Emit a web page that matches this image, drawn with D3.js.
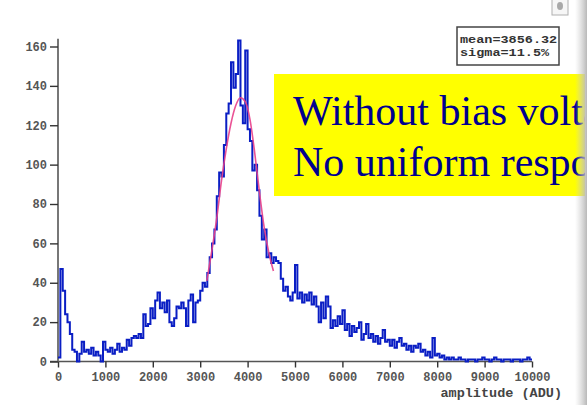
<!DOCTYPE html>
<html>
<head>
<meta charset="utf-8">
<script src="https://cdn.jsdelivr.net/npm/d3@7"></script>
<style>
  body { margin: 0; background: #ffffff; }
  .tick text { font-family: "Liberation Mono", "DejaVu Sans Mono", monospace; }
</style>
</head>
<body>
<div id="chart"></div>
<script>
// Amplitude spectrum with gaussian fit

// histogram: 50 ADU bins, 0 .. 10000
var binWidth = 50;
var counts = [
  2, 47, 36, 24, 20, 14, 6, 5, 0, 4, 10, 5, 6, 4, 7, 3, 5, 3, 0, 10,          // 0-1000
  6, 5, 7, 4, 6, 9, 5, 7, 6, 11, 8, 12, 13, 12, 14, 12, 24, 18, 19, 27,        // 1000-2000
  22, 31, 35, 27, 30, 25, 31, 20, 18, 22, 28, 27, 30, 27, 18, 31, 34, 20, 30, 31, // 2000-3000
  36, 40, 38, 45, 53, 60, 67, 84, 96, 94, 110, 126, 131, 152, 139, 146, 163, 130, 121, 158, // 3000-4000
  118, 112, 97, 100, 87, 74, 62, 67, 53, 55, 50, 53, 51, 50, 42, 36, 38, 33, 31, 35, // 4000-5000
  49, 32, 35, 30, 34, 31, 35, 29, 33, 28, 20, 30, 22, 33, 28, 17, 21, 18, 23, 19, // 5000-6000
  26, 16, 19, 13, 18, 15, 17, 20, 11, 14, 19, 12, 14, 10, 13, 9, 12, 16, 10, 11, // 6000-7000
  8, 11, 7, 10, 12, 8, 9, 6, 8, 5, 8, 7, 9, 5, 6, 3, 5, 2, 12, 3,              // 7000-8000
  4, 2, 3, 1, 2, 1, 2, 1, 1, 2, 1, 1, 0, 1, 1, 1, 0, 1, 1, 2,                  // 8000-9000
  1, 1, 0, 1, 2, 1, 1, 0, 1, 1, 1, 0, 1, 1, 1, 0, 1, 1, 2, 1                   // 9000-10000
];

// fitted gaussian
var fitAdu    = [3140, 3250, 3350, 3450, 3550, 3650, 3750, 3850, 3950, 4050, 4150, 4250, 4350, 4450, 4545];
var fitCounts = [  41,   57,   73,   92,  108,  121,  130,  134,  132,  123,  106,   86,   68,   55,   46];

var xTicks = [0, 1000, 2000, 3000, 4000, 5000, 6000, 7000, 8000, 9000, 10000];
var yTicks = [0, 20, 40, 60, 80, 100, 120, 140, 160];

var statLines = ["mean=3856.32", "sigma=11.5%"];
var slideLines = ["Without bias voltage", "No uniform response"];

var width = 587;
var height = 405;

var svg = d3.select("#chart")
  .append("svg")
  .attr("width", width)
  .attr("height", height);

var xScale = d3.scaleLinear().domain([0, 10000]).range([58, 532]);
var yScale = d3.scaleLinear().domain([0, 160]).range([361.5, 46.5]);

// axes
var xAxis = d3.axisBottom(xScale).tickValues(xTicks).tickSize(6).tickPadding(5).tickFormat(d3.format("d"));
var yAxis = d3.axisLeft(yScale).tickValues(yTicks).tickSize(8).tickPadding(3).tickFormat(d3.format("d"));

var gx = svg.append("g")
  .attr("class", "xAxis")
  .attr("transform", "translate(0," + yScale(0) + ")")
  .call(xAxis);

var gy = svg.append("g")
  .attr("class", "yAxis")
  .attr("transform", "translate(" + xScale(0) + ",0)")
  .call(yAxis);

gx.select(".domain").attr("d", "M" + (xScale(0) - 8) + ",0H" + xScale(10000)).attr("stroke", "#555").attr("stroke-width", 1.6);
gy.select(".domain").attr("d", "M0," + yScale(0) + "V" + (yScale(164))).attr("stroke", "#777").attr("stroke-width", 2);

svg.selectAll(".tick line").attr("stroke", "#333").attr("stroke-width", 1.4);
svg.selectAll(".tick text")
  .attr("fill", "#555")
  .attr("font-size", 12)
  .attr("font-weight", "bold");

svg.append("text")
  .attr("x", 562)
  .attr("y", 397)
  .attr("text-anchor", "end")
  .attr("font-family", "Liberation Mono, monospace")
  .attr("font-size", 13.5)
  .attr("font-weight", "bold")
  .attr("fill", "#444")
  .text("amplitude (ADU)");

// histogram as a step line
var histPts = counts.map(function(c, i) { return [i * binWidth, c]; });
histPts.push([10000, counts[counts.length - 1]]);

var stepLine = d3.line()
  .x(function(d) { return xScale(d[0]); })
  .y(function(d) { return yScale(d[1]); })
  .curve(d3.curveStepAfter);

svg.append("path")
  .datum(histPts)
  .attr("d", stepLine)
  .attr("fill", "none")
  .attr("stroke", "#0a1ec4")
  .attr("stroke-width", 2)
  .attr("stroke-linejoin", "miter");

// fit curve
var fitLine = d3.line()
  .x(function(d, i) { return xScale(fitAdu[i]); })
  .y(function(d) { return yScale(d); })
  .curve(d3.curveMonotoneX);

svg.append("path")
  .datum(fitCounts)
  .attr("d", fitLine)
  .attr("fill", "none")
  .attr("stroke", "#e8408a")
  .attr("stroke-width", 1.6)
  .attr("opacity", 0.9);

// stats box
var statBox = svg.append("g").attr("transform", "translate(457,27)");
statBox.append("rect")
  .attr("width", 102)
  .attr("height", 38)
  .attr("fill", "#ffffff")
  .attr("stroke", "#444")
  .attr("stroke-width", 1.5);
statBox.selectAll("text")
  .data(statLines)
  .enter()
  .append("text")
  .attr("x", 3)
  .attr("y", function(d, i) { return 16 + i * 13; })
  .attr("textLength", function(d) { return d.length * 8.1; })
  .attr("lengthAdjust", "spacingAndGlyphs")
  .attr("font-family", "Liberation Mono, monospace")
  .attr("font-size", 11)
  .attr("font-weight", "bold")
  .attr("fill", "#333")
  .text(function(d) { return d; });

// yellow slide note, its text runs off the right edge as in the slide
svg.append("clipPath")
  .attr("id", "noteClip")
  .append("rect")
  .attr("x", 274).attr("y", 74).attr("width", 311).attr("height", 122);

svg.append("rect")
  .attr("x", 274).attr("y", 74).attr("width", 311).attr("height", 122)
  .attr("fill", "#ffff00");

svg.append("g")
  .attr("clip-path", "url(#noteClip)")
  .selectAll("text")
  .data(slideLines)
  .enter()
  .append("text")
  .attr("x", 293)
  .attr("y", function(d, i) { return 125 + i * 51; })
  .attr("font-family", "Liberation Serif, Times New Roman, serif")
  .attr("font-size", 42)
  .attr("fill", "#00008f")
  .text(function(d) { return d; });

// window edge: scrollbar strip and little button
var grad = svg.append("defs").append("linearGradient")
  .attr("id", "edgeGrad")
  .attr("x1", "0%").attr("x2", "100%");
grad.append("stop").attr("offset", "0%").attr("stop-color", "#d0d0d0").attr("stop-opacity", 0);
grad.append("stop").attr("offset", "100%").attr("stop-color", "#b8b8b8").attr("stop-opacity", 1);

svg.append("rect")
  .attr("x", 575).attr("y", 0).attr("width", 12).attr("height", height)
  .attr("fill", "url(#edgeGrad)");

svg.append("rect")
  .attr("x", 552).attr("y", -2).attr("width", 16).attr("height", 17)
  .attr("fill", "#f6f6f6")
  .attr("stroke", "#b0b0b0");
svg.append("ellipse")
  .attr("cx", 560).attr("cy", 6).attr("rx", 3).attr("ry", 4)
  .attr("fill", "#a8a8a8");
</script>
</body>
</html>
